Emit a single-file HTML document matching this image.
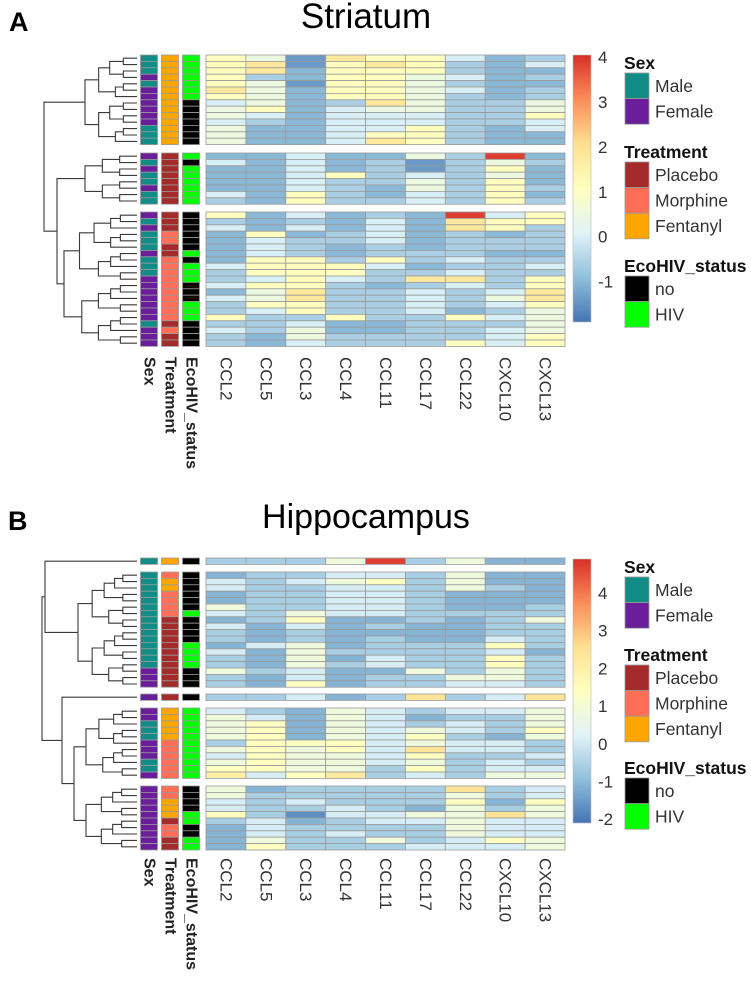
<!DOCTYPE html>
<html><head><meta charset="utf-8">
<style>
html,body{margin:0;padding:0;background:#fff;}
svg{display:block;font-family:"Liberation Sans",Arial,sans-serif;}
</style></head>
<body>
<svg id="fig" width="751" height="982" viewBox="0 0 751 982" xmlns="http://www.w3.org/2000/svg">
<defs>
<linearGradient id="cbgrad" x1="0" y1="1" x2="0" y2="0">
<stop offset="0" stop-color="#4575B4"/><stop offset="0.1667" stop-color="#91BFDB"/><stop offset="0.3333" stop-color="#E0F3F8"/><stop offset="0.5" stop-color="#FFFFBF"/><stop offset="0.6667" stop-color="#FEE090"/><stop offset="0.8333" stop-color="#FC8D59"/><stop offset="1" stop-color="#D73027"/>
</linearGradient>
</defs>
<text x="9" y="31" font-size="27" font-weight="bold" fill="#000">A</text>
<text x="366" y="28" font-size="35" text-anchor="middle" fill="#000">Striatum</text>
<text x="8" y="530" font-size="27" font-weight="bold" fill="#000">B</text>
<text x="366" y="528" font-size="34" text-anchor="middle" fill="#000">Hippocampus</text>
<g id="layer"></g>
</svg>
<script>
const genes = ["CCL2","CCL5","CCL3","CCL4","CCL11","CCL17","CCL22","CXCL10","CXCL13"];
const annNames = ["Sex","Treatment","EcoHIV_status"];
const sexLevels = ["Male","Female"];
const treatLevels = ["Placebo","Morphine","Fentanyl"];
const ecoLevels = ["no","HIV"];
const topTicks = [4,3,2,1,0,-1];
const botTicks = [4,3,2,1,0,-1,-2];

// Striatum values (rows grouped into cluster blocks)
const topBlock1 = [
[1.1,0.5,-1.4,1.8,1.1,1.1,0,-1,-0.6],
[1.1,1.8,-1.4,1.1,1.8,1.1,-0.6,-1,0],
[1.1,1.8,-1,1.1,1.1,1.1,-0.6,-1,-1],
[1.1,-0.6,-1,1.1,1.1,0.5,0,-1,-0.6],
[1.1,0.5,-1.4,1.1,1.1,0.5,-0.6,-1,-1],
[1.8,0.5,-1,1.1,1.1,0.5,0,-1,-0.6],
[1.1,0.5,-1,1.1,1.1,0.5,-0.6,-1,-0.6],
[0,0.5,-1,-0.6,1.8,0.5,-0.6,-0.6,0.5],
[0.5,1.1,-1,0,0.5,0.5,-0.6,-0.6,0.5],
[0.5,0,-1,0,0,0,-0.6,-0.6,1.1],
[0,-0.6,-1,0,0,0,-0.6,-0.6,0],
[0.5,-1,-1,0,0,1.1,-0.6,-1,0],
[0.5,-1,-1,0,1.1,1.1,-0.6,-1,-1],
[0.5,-1,-1,0,1.8,1.1,-0.6,-1,-1]];
const topBlock2 = [
[-1,-1,0,-1,-1,0.5,-0.6,3.9,-1],
[0,-1,0,-1,-0.6,-1.4,-0.6,0.5,-0.6],
[-1,-1,0,-1,-0.6,-1.4,-0.6,1.1,-1],
[-1,-1,0,1.1,-0.6,0,-0.6,0.5,-1],
[-1,-1,0,-0.6,-0.6,0.5,-0.6,1.1,-1],
[-1,-1,0,-0.6,-1,0.5,-0.6,1.1,-0.6],
[0,-1,1.1,-0.6,-1,0,-0.6,1.1,-1],
[-0.6,-1,1.1,-0.6,-0.6,0,-0.6,1.1,-0.6]];
const topBlock3 = [
[1.1,-1,0,-1,-0.6,-1,3.9,0,1.1],
[-0.6,-1,-0.6,-1,0,-1,1.8,1.1,1.1],
[0,-1,0,-1,0,-1,1.8,1.1,-0.6],
[-1,1.1,-1,-0.6,0,-1,-0.6,-1,-0.6],
[-1,0,-0.6,-0.6,0,-1,-0.6,-0.6,-0.6],
[-1,0,-0.6,-1,-0.6,-1,-0.6,-0.6,-0.6],
[-1,0,-0.6,-1,-0.6,-0.6,-0.6,-1,-1],
[-1,1.1,1.1,-0.6,1.1,-0.6,0,-0.6,-0.6],
[0,1.1,1.1,1.1,0,-1,-0.6,-0.6,0],
[-0.6,1.1,1.1,1.1,-0.6,-0.6,0,-0.6,-0.6],
[-0.6,0,1.1,0,-0.6,1.8,1.8,-0.6,1.1],
[0,1.1,1.1,-0.6,-1,-0.6,0,-0.6,1.1],
[-1,0.5,1.8,-0.6,-0.6,0,-0.6,0,1.8],
[0,0.5,1.8,-0.6,-0.6,0,-0.6,0.5,1.8],
[-0.6,1.1,1.1,-0.6,-0.6,0,-0.6,0,1.1],
[-0.6,0,1.1,-0.6,-0.6,0,-1,-0.6,0.5],
[1.1,-0.6,-0.6,1.1,-0.6,-0.6,1.1,0,0.5],
[-0.6,-0.6,0,-1,-1,-0.6,-0.6,-0.6,0.5],
[0,-0.6,0.5,-1,-1,-0.6,-0.6,0,0.5],
[-0.6,-1,0.5,-0.6,-0.6,-0.6,-0.6,0,1.1],
[-0.6,-1,0,-0.6,-0.6,-0.6,1.1,0,1.1]];
const topSex = [
["Male","Male","Male","Female","Male","Female","Female","Female","Female","Female","Female","Male","Male","Male"],
["Female","Male","Female","Male","Male","Female","Male","Male"],
["Female","Male","Female","Male","Male","Male","Female","Male","Male","Male","Female","Female","Female","Female","Female","Female","Female","Male","Female","Female","Female"]];
const topTreat = [
["Fentanyl","Fentanyl","Fentanyl","Fentanyl","Fentanyl","Fentanyl","Fentanyl","Fentanyl","Fentanyl","Fentanyl","Fentanyl","Fentanyl","Fentanyl","Fentanyl"],
["Placebo","Placebo","Placebo","Placebo","Placebo","Placebo","Placebo","Placebo"],
["Placebo","Placebo","Placebo","Morphine","Morphine","Placebo","Placebo","Morphine","Morphine","Morphine","Morphine","Morphine","Morphine","Morphine","Morphine","Morphine","Morphine","Placebo","Morphine","Placebo","Placebo"]];
const topEco = [
["HIV","HIV","HIV","HIV","HIV","HIV","HIV","no","no","no","no","no","no","no"],
["HIV","no","HIV","HIV","HIV","HIV","HIV","HIV"],
["no","no","no","no","no","no","HIV","no","HIV","HIV","HIV","no","no","no","HIV","HIV","HIV","no","no","no","no"]];

// Hippocampus values
const botBlock1 = [[-0.6,-0.6,-0.6,0.8,4.7,-0.6,0.8,-1.1,-1.1]];
const botBlock2 = [
[-1.1,-0.6,-0.6,0.1,0.1,-0.6,0.8,-1.1,-1.1],
[0.1,-0.6,0.1,0.8,1.4,-0.6,0.8,-1.1,-1.1],
[0.1,-0.6,-0.6,0.1,0.1,-0.6,0.8,-0.6,-1.1],
[-1.1,-0.6,-0.6,0.1,0.1,-0.6,-1.1,-1.1,-1.1],
[-1.1,-0.6,-0.6,0.1,0.1,-0.6,-1.1,-1.1,-1.1],
[0.8,-0.6,-0.6,0.1,0.1,-0.6,-1.1,-1.1,-0.6],
[0.1,-0.6,0.8,0.1,0.1,-0.6,-0.6,-0.6,-0.6],
[-1.1,-0.6,1.4,-1.1,-1.1,-0.6,-1.1,-0.6,0.8],
[0.1,-1.1,0.1,-1.1,-0.6,-1.1,-1.1,-0.6,-0.6],
[-0.6,-1.1,-0.6,-1.1,-1.1,-1.1,-1.1,-0.6,-0.6],
[-0.6,-1.1,-0.6,-1.1,-0.6,-1.1,-1.1,0.1,-0.6],
[-1.1,0.1,0.8,-1.1,-0.6,-0.6,-0.6,1.4,-0.6],
[0.1,-1.1,0.8,-0.6,-0.6,-0.6,-0.6,0.1,-1.1],
[-0.6,-1.1,0.8,-1.1,0.1,-0.6,-0.6,1.4,-0.6],
[-0.6,-1.1,0.8,-0.6,0.1,-0.6,-0.6,1.4,-0.6],
[0.8,-0.6,0.1,-1.1,-1.1,0.8,-0.6,0.8,-0.6],
[-0.6,-1.1,0.1,-1.1,-0.6,-0.6,0.8,0.8,-0.6],
[-0.6,-1.1,1.4,-1.1,-0.6,-0.6,0.1,0.1,-0.6]];
const botBlock3 = [[-0.6,-0.6,0.1,-1.1,-0.6,2.4,-0.6,0.1,2.4]];
const botBlock4 = [
[0.1,-0.6,-1.1,0.8,0.1,-0.6,0.1,0.1,0.8],
[0.8,0.1,-1.1,0.8,0.1,-1.1,-0.6,-0.6,0.8],
[0.8,1.4,-1.1,0.8,0.1,-0.6,0.1,-0.6,0.8],
[0.8,1.4,-1.1,0.8,0.1,0.8,0.1,-0.6,1.4],
[0.8,1.4,-1.1,0.8,0.1,1.4,-0.6,-1.1,0.8],
[-0.6,1.4,1.4,1.4,0.1,0.8,0.1,0.1,-0.6],
[0.8,1.4,0.8,1.4,0.1,2.4,0.1,0.1,-0.6],
[0.1,1.4,0.8,0.8,0.1,1.4,-0.6,-0.6,0.1],
[0.8,1.4,0.8,0.8,0.1,0.8,-0.6,0.1,-0.6],
[1.4,1.4,0.8,0.8,-0.6,1.4,-0.6,0.1,0.1],
[2.0,0.1,1.4,2.2,-0.6,0.1,-0.6,0.8,0.8]];
const botBlock5 = [
[0.8,-1.1,-0.6,-0.6,-0.6,-0.6,2.4,-0.6,0.1],
[0.8,-0.6,-0.6,-0.6,-0.6,-0.6,0.8,-0.6,0.1],
[0.1,-0.6,0.1,-0.6,-0.6,-0.6,1.4,-1.1,1.4],
[0.1,-0.6,-0.6,0.1,-0.6,-1.1,0.8,-0.6,0.8],
[1.4,-0.6,-1.7,0.1,0.1,0.8,0.8,2.4,0.8],
[-0.6,0.1,-1.1,-0.6,0.1,0.1,0.8,0.1,0.1],
[-1.1,0.1,-0.6,-0.6,-0.6,-0.6,0.8,0.1,0.1],
[-1.1,0.1,-0.6,0.1,-0.6,-0.6,0.8,0.1,0.1],
[-1.1,0.8,-0.6,-0.6,0.8,-0.6,0.1,1.4,0.8],
[-1.1,1.4,-0.6,-0.6,-0.6,0.1,0.1,0.1,0.8]];
const botSex = [
["Male"],
["Male","Male","Male","Male","Male","Male","Male","Male","Male","Male","Male","Male","Male","Male","Male","Female","Female","Female"],
["Female"],
["Female","Female","Male","Male","Male","Female","Female","Female","Male","Male","Female"],
["Female","Female","Female","Female","Female","Female","Female","Female","Female","Female"]];
const botTreat = [
["Fentanyl"],
["Morphine","Fentanyl","Fentanyl","Morphine","Morphine","Morphine","Morphine","Placebo","Placebo","Placebo","Placebo","Placebo","Placebo","Placebo","Placebo","Placebo","Placebo","Placebo"],
["Placebo"],
["Fentanyl","Fentanyl","Fentanyl","Fentanyl","Fentanyl","Morphine","Morphine","Morphine","Morphine","Morphine","Morphine"],
["Morphine","Morphine","Fentanyl","Fentanyl","Fentanyl","Placebo","Morphine","Morphine","Placebo","Placebo"]];
const botEco = [
["no"],
["no","no","no","no","no","no","HIV","no","no","no","no","HIV","HIV","HIV","HIV","no","no","no"],
["no"],
["HIV","HIV","HIV","HIV","HIV","HIV","HIV","HIV","HIV","HIV","HIV"],
["no","no","no","no","HIV","HIV","no","no","HIV","HIV"]];

// ---------- drawing ----------
const NS = "http://www.w3.org/2000/svg";
const layer = document.getElementById("layer");
const PAL = [[0x45,0x75,0xB4],[0x91,0xBF,0xDB],[0xE0,0xF3,0xF8],[0xFF,0xFF,0xBF],[0xFE,0xE0,0x90],[0xFC,0x8D,0x59],[0xD7,0x30,0x27]];
const annColors = {Male:"#138B86",Female:"#6A1E9A",Placebo:"#A52A2A",Morphine:"#FF6E55",Fentanyl:"#FFA500",no:"#000000",HIV:"#00FF00"};
function colorFor(v, lo, hi){
  let f = (v-lo)/(hi-lo); f = Math.max(0,Math.min(1,f));
  const p = f*6; const i = Math.min(5,Math.floor(p)); const t = p-i;
  const c = PAL[i].map((a,k)=>Math.round(a+(PAL[i+1][k]-a)*t));
  return "rgb("+c.join(",")+")";
}
function mk(tag, attrs, parent){
  const e = document.createElementNS(NS, tag);
  for (const k in attrs) e.setAttribute(k, attrs[k]);
  (parent||layer).appendChild(e); return e;
}
const X0 = 206, X1 = 565, ROWH = 6.4;
const colW = (X1-X0)/genes.length;
const xScale = j => X0 + j*colW;
const annX = [140.5, 161.5, 182.5], annW = 17;
const LEAFX = 137;

function drawPanel(p){
  const g = mk("g", {});
  
  
  const blockLeaves = [];
  p.blocks.forEach((rows, b) => {
    const y0 = p.starts[b];
    const leaves = [];
    rows.forEach((vals, r) => {
      const y = y0 + r*ROWH;
      leaves.push(y + ROWH/2);
      vals.forEach((v, j) => {
        const rc = mk("rect", {x:xScale(j), y:y, width:colW, height:ROWH, fill:colorFor(v,p.lo,p.hi), stroke:"#9a9a9a", "stroke-width":0.8}, g);
        
        
      });
      const annVals = [p.sex[b][r], p.treat[b][r], p.eco[b][r]];
      annVals.forEach((a, k) => {
        const ar = mk("rect", {x:annX[k], y:y, width:annW, height:ROWH, fill:annColors[a], stroke:"#9a9a9a", "stroke-width":0.8}, g);
        
        
      });
    });
    blockLeaves.push(leaves);
  });
  // dendrogram
  const dg = mk("g", {fill:"none", stroke:"#3a3a3a", "stroke-width":1.1});
  
  
  function elbow(a, b, x){
    mk("path", {d:`M${a.x},${a.y}H${x}V${b.y}H${b.x}`}, dg);
    return {x:x, y:(a.y+b.y)/2};
  }
  function subtree(ys, innerX, N){
    if (ys.length === 1) return {x:LEAFX, y:ys[0]};
    const h = Math.ceil(ys.length/2);
    const a = subtree(ys.slice(0,h), innerX, N), b = subtree(ys.slice(h), innerX, N);
    const x = LEAFX - (LEAFX-innerX)*Math.log2(ys.length)/Math.log2(N);
    return elbow(a, b, x);
  }
  const nodes = blockLeaves.map((ys,i)=>subtree(ys, p.inner[i], Math.max(2,ys.length)));
  p.joins(nodes, elbow);
  // column labels
  genes.forEach((gname, j) => {
    const cx = xScale(j)+colW/2, ty = p.labelY;
    const t = mk("text", {x:cx, y:ty, transform:`rotate(90 ${cx} ${ty})`, "font-size":17, fill:"#333", "dominant-baseline":"central"});
    t.textContent = gname;
    
    
  });
  annNames.forEach((an, k) => {
    const cx = annX[k]+annW/2, ty = p.labelY;
    const t = mk("text", {x:cx, y:ty, transform:`rotate(90 ${cx} ${ty})`, "font-size":16, "font-weight":"bold", fill:"#222", "dominant-baseline":"central"});
    t.textContent = an;
    
    
  });
  // colorbar
  const cb = mk("rect", {x:573, y:p.cbTop, width:18, height:p.cbBot-p.cbTop, fill:"url(#cbgrad)", stroke:"#bbb", "stroke-width":0.6});
  
  
  const cbY = v => p.cbBot - (v-p.lo)/(p.hi-p.lo)*(p.cbBot-p.cbTop);
  p.ticks.forEach(v => {
    const t = mk("text", {x:598, y:cbY(v)+6, "font-size":17, fill:"#333"});
    t.textContent = String(v);
    
    
  });
  // legend
  const groups = [["Sex", sexLevels, p.legY[0]], ["Treatment", treatLevels, p.legY[1]], ["EcoHIV_status", ecoLevels, p.legY[2]]];
  groups.forEach(([title, levels, ty]) => {
    const tt = mk("text", {x:624, y:ty+6, "font-size":17.5, "font-weight":"bold", fill:"#111"});
    tt.textContent = title;
    
    
    levels.forEach((lv, i) => {
      const sy = ty + 10 + i*25.6;
      const sw = mk("rect", {x:625, y:sy, width:24, height:25.6, fill:annColors[lv], stroke:"#999", "stroke-width":0.8});
      
      
      const lt = mk("text", {x:655, y:sy+19, "font-size":17.5, fill:"#333"});
      lt.textContent = lv;
      
      
    });
  });
}

drawPanel({
  name:"striatum", lo:-1.9, hi:4.05, cbTop:55, cbBot:322, ticks:topTicks, labelY:357,
  blocks:[topBlock1, topBlock2, topBlock3], starts:[55,153,212],
  sex:topSex, treat:topTreat, eco:topEco, inner:[85,85,64],
  legY:[63,152,266],
  joins:(n, elbow)=>{ const b23 = elbow(n[1], n[2], 57); elbow(n[0], b23, 44); }
});
drawPanel({
  name:"hippocampus", lo:-2.1, hi:4.9, cbTop:559, cbBot:823, ticks:botTicks, labelY:858,
  blocks:[botBlock1, botBlock2, botBlock3, botBlock4, botBlock5], starts:[558,572,694,708,786],
  sex:botSex, treat:botTreat, eco:botEco, inner:[137,78,137,86,86],
  legY:[567,655,768],
  joins:(n, elbow)=>{ const ab = elbow(n[0], n[1], 45); const de = elbow(n[3], n[4], 74); const cde = elbow(n[2], de, 62); elbow(ab, cde, 42); }
});
</script>
</body></html>
